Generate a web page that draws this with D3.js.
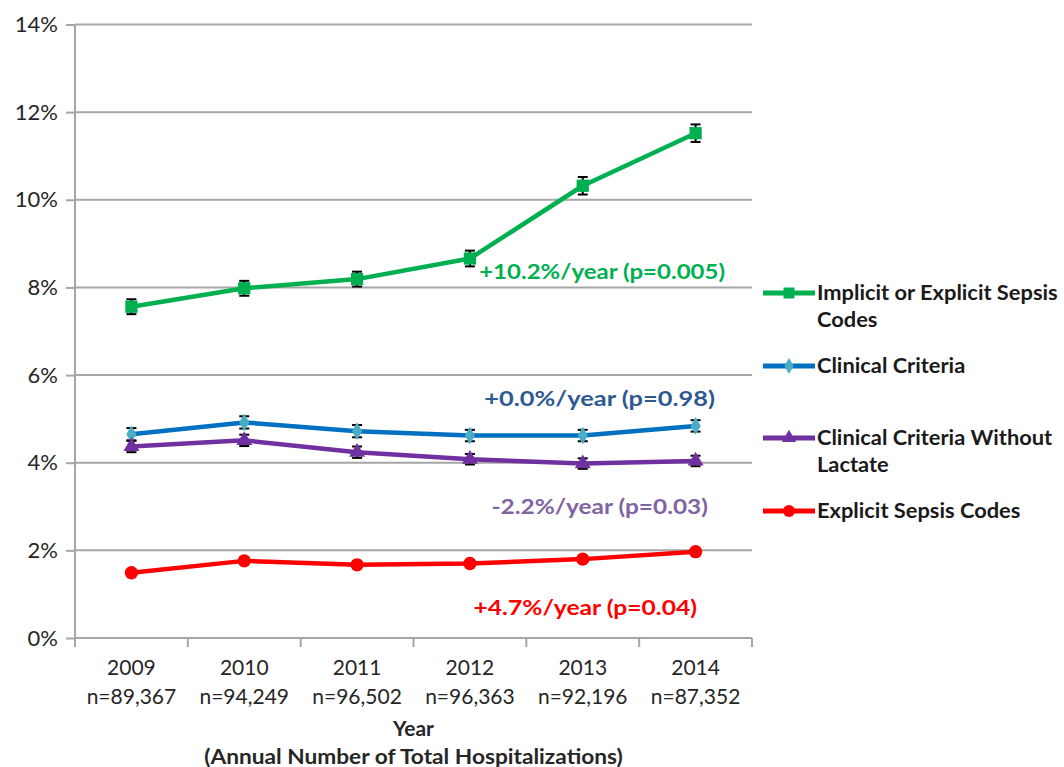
<!DOCTYPE html>
<html lang="en">
<head>
  <meta charset="UTF-8">
  <title>Sepsis incidence 2009-2014</title>
  <script src="https://d3js.org/d3.v7.min.js"></script>
  <style>
    body { margin: 0; background: white; }
    svg { display: block; font-family: Lato, "Open Sans", sans-serif; }
    .grid line { stroke: #a6a6a6; stroke-width: 2px; }
    .axis path, .axis line { stroke: #a6a6a6; stroke-width: 2px; }
    .tick-label { font-size: 21px; fill: #262626; }
    .y-label { font-size: 22px; fill: #262626; }
    .title { font-size: 21px; font-weight: bold; fill: #262626; }
    .legend text { font-size: 21px; font-weight: bold; fill: #1a1a1a; }
    .note { font-size: 20px; font-weight: bold; }
  </style>
</head>
<body>
<svg width="1064" height="767"></svg>
<script>
  // data (percent of hospitalizations)
  const years = ["2009", "2010", "2011", "2012", "2013", "2014"];
  const totals = ["n=89,367", "n=94,249", "n=96,502", "n=96,363", "n=92,196", "n=87,352"];
  const yTicks = [0, 2, 4, 6, 8, 10, 12, 14];

  const implicitCodes = [7.56, 7.98, 8.19, 8.66, 10.32, 11.52];
  const implicitErr   = [0.17, 0.17, 0.17, 0.18, 0.20, 0.20];
  const clinical      = [4.65, 4.92, 4.72, 4.62, 4.62, 4.84];
  const clinicalErr   = [0.14, 0.14, 0.14, 0.13, 0.13, 0.13];
  const noLactate     = [4.37, 4.51, 4.24, 4.08, 3.98, 4.04];
  const noLactateErr  = [0.13, 0.13, 0.13, 0.12, 0.12, 0.12];
  const explicitCodes = [1.49, 1.76, 1.67, 1.70, 1.80, 1.97];
  const explicitErr   = [0.04, 0.04, 0.04, 0.04, 0.04, 0.04];

  const series = [
    { name: ["Implicit or Explicit Sepsis", "Codes"], values: implicitCodes, err: implicitErr,
      color: "#00b050", fill: "#00b050", symbol: d3.symbolSquare, size: 150,
      note: "+10.2%/year (p=0.005)", noteColor: "#00b050" },
    { name: ["Clinical Criteria"], values: clinical, err: clinicalErr,
      color: "#0070c0", fill: "#4bacc6", symbol: d3.symbolDiamond, size: 90,
      note: "+0.0%/year (p=0.98)", noteColor: "#2f5a91" },
    { name: ["Clinical Criteria Without", "Lactate"], values: noLactate, err: noLactateErr,
      color: "#7030a0", fill: "#7030a0", symbol: d3.symbolTriangle, size: 110,
      note: "-2.2%/year (p=0.03)", noteColor: "#8064a2" },
    { name: ["Explicit Sepsis Codes"], values: explicitCodes, err: explicitErr,
      color: "#ff0000", fill: "#ff0000", symbol: d3.symbolCircle, size: 140,
      note: "+4.7%/year (p=0.04)", noteColor: "#ff0000" }
  ];

  const svg = d3.select("svg");
  const plotL = 75, plotR = 752, plotT = 24.5, plotB = 638;

  // the original picture is a bit stretched sideways, so some texts get widened
  function widen(sel, k) {
    sel.each(function() {
      const w = this.getComputedTextLength();
      d3.select(this).attr("textLength", w * k).attr("lengthAdjust", "spacingAndGlyphs");
    });
  }

  const x = d3.scaleBand().domain(years).range([plotL, plotR]);
  const y = d3.scaleLinear().domain([0, 14]).range([plotB, plotT]);
  const cx = d => x(d) + x.bandwidth() / 2;

  // gridlines
  svg.append("g").attr("class", "grid")
    .selectAll("line").data(yTicks.filter(d => d > 0)).join("line")
    .attr("x1", plotL).attr("x2", plotR)
    .attr("y1", d => y(d)).attr("y2", d => y(d));

  // y axis
  const yAxis = svg.append("g").attr("class", "axis")
    .attr("transform", `translate(${plotL},0)`)
    .call(d3.axisLeft(y).tickValues(yTicks).tickSize(9).tickPadding(8)
      .tickFormat(d => d + "%"));
  yAxis.attr("font-family", null).attr("font-size", null);
  yAxis.select(".domain").attr("d", `M0,${plotT}V${plotB}`);
  yAxis.selectAll("text").attr("class", "y-label");

  // x axis: ticks on category boundaries
  const xAxis = svg.append("g").attr("class", "axis");
  xAxis.append("line").attr("x1", plotL).attr("x2", plotR).attr("y1", plotB).attr("y2", plotB);
  const bounds = years.map(d => x(d)).concat([x(years[years.length - 1]) + x.bandwidth()]);
  xAxis.selectAll("line.tk").data(bounds).join("line").attr("class", "tk")
    .attr("x1", d => d).attr("x2", d => d).attr("y1", plotB).attr("y2", plotB + 9);

  svg.append("g").selectAll("text").data(years).join("text")
    .attr("class", "tick-label").attr("text-anchor", "middle")
    .attr("x", d => cx(d)).attr("y", 675).text(d => d);
  svg.append("g").selectAll("text").data(totals).join("text")
    .attr("class", "tick-label").attr("text-anchor", "middle")
    .attr("x", (d, i) => cx(years[i])).attr("y", 704).text(d => d);

  svg.append("text").attr("class", "title")
    .attr("text-anchor", "middle").attr("x", (plotL + plotR) / 2).attr("y", 736).text("Year");
  svg.append("text").attr("class", "title")
    .attr("text-anchor", "middle").attr("x", (plotL + plotR) / 2).attr("y", 764)
    .text("(Annual Number of Total Hospitalizations)")
    .call(widen, 1.08);

  // lines, error bars, markers
  const line = d3.line().x((d, i) => cx(years[i])).y(d => y(d));
  series.forEach(s => {
    const g = svg.append("g");
    g.append("path").attr("d", line(s.values))
      .attr("fill", "none").attr("stroke", s.color).attr("stroke-width", 4.5)
      .attr("stroke-linejoin", "round");
    const eb = g.append("g").attr("stroke", "#000").attr("stroke-width", 2);
    s.values.forEach((v, i) => {
      const px = cx(years[i]);
      eb.append("line").attr("x1", px).attr("x2", px).attr("y1", y(v - s.err[i])).attr("y2", y(v + s.err[i]));
      [v - s.err[i], v + s.err[i]].forEach(e =>
        eb.append("line").attr("x1", px - 5).attr("x2", px + 5).attr("y1", y(e)).attr("y2", y(e)));
    });
    g.selectAll("path.mk").data(s.values).join("path").attr("class", "mk")
      .attr("d", d3.symbol(s.symbol, s.size))
      .attr("transform", (d, i) => `translate(${cx(years[i])},${y(d)})`)
      .attr("fill", s.fill);
  });

  // trend annotations
  const notes = [
    { y: 279, x: 725, k: 1.20 }, { y: 406, x: 715, k: 1.27 },
    { y: 514, x: 708, k: 1.22 }, { y: 615, x: 697, k: 1.23 }
  ];
  series.forEach((s, i) => {
    svg.append("text").attr("class", "note").attr("text-anchor", "end")
      .attr("x", notes[i].x).attr("y", notes[i].y)
      .attr("fill", s.noteColor).text(s.note)
      .call(widen, notes[i].k);
  });

  // legend
  const legY = [293, 366, 438, 511];
  const legend = svg.append("g").attr("class", "legend");
  series.forEach((s, i) => {
    const g = legend.append("g").attr("transform", `translate(0,${legY[i]})`);
    g.append("line").attr("x1", 763).attr("x2", 815).attr("y1", 0).attr("y2", 0)
      .attr("stroke", s.color).attr("stroke-width", 5);
    g.append("path").attr("d", d3.symbol(s.symbol, s.size * 0.8))
      .attr("transform", "translate(789,0)").attr("fill", s.fill);
    s.name.forEach((t, k) => {
      g.append("text").attr("x", 817).attr("y", 7 + k * 27).text(t);
    });
  });
  legend.selectAll("text").call(widen, 1.04);
</script>
</body>
</html>
